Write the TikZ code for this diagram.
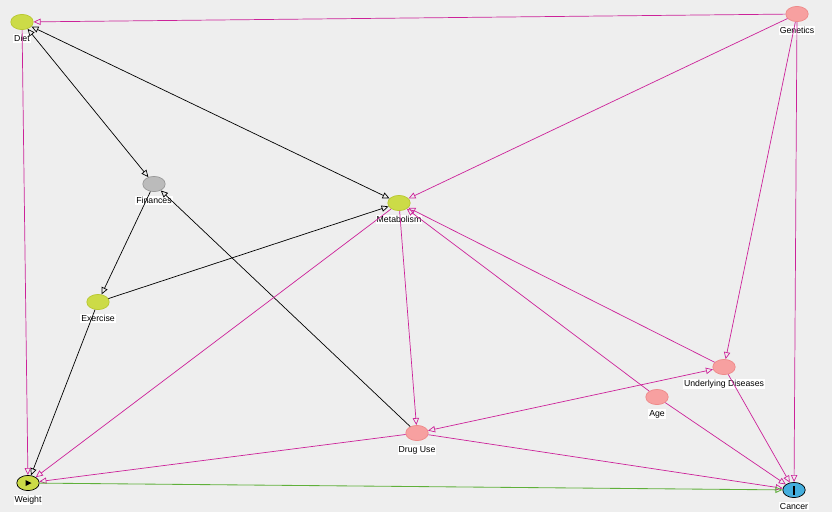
\documentclass[tikz,border=0pt]{standalone}
\usepackage{fontspec}
\setmainfont{Liberation Sans}
\usetikzlibrary{arrows.meta,shapes.geometric}

\definecolor{bgcol}{HTML}{EEEEEE}
\definecolor{ancboth}{HTML}{CCDB47}
\definecolor{ancboth2}{HTML}{B9C832}
\definecolor{ancout}{HTML}{F7A0A0}
\definecolor{ancout2}{HTML}{EE8A8A}
\definecolor{other}{HTML}{BBBBBB}
\definecolor{other2}{HTML}{999999}
\definecolor{outcol}{HTML}{44AEDD}
\definecolor{biasline}{HTML}{CC2299}
\definecolor{causline}{HTML}{5FB03A}

\tikzset{
  var/.style={ellipse, minimum width=0.56cm, minimum height=0.38cm, inner sep=0pt, line width=0.5pt},
  both/.style={var, fill=ancboth, draw=ancboth2},
  outanc/.style={var, fill=ancout, draw=ancout2},
  plain/.style={var, fill=other, draw=other2},
  lab/.style={fill=white, inner sep=0.7pt, font=\fontsize{6.2}{7}\selectfont},
  bias/.style={draw=biasline, line width=0.5pt},
  neutral/.style={draw=black, line width=0.5pt},
  causal/.style={draw=causline, line width=0.6pt},
}

\begin{document}
\begin{tikzpicture}[x=0.025cm, y=-0.025cm, label distance=0.1cm,
    >={Triangle[open,length=5pt,width=4.5pt]}]
  % fond
  \fill[bgcol] (0,0) rectangle (832,512);
  \useasboundingbox (0,0) rectangle (832,512);

  % variables
  \node[both, label={[lab]below:Diet}] (diet) at (22,22) {};
  \node[outanc, label={[lab]below:Genetics}] (gen) at (797,14) {};
  \node[plain, label={[lab]below:Finances}] (fin) at (154,184) {};
  \node[both, label={[lab]below:Metabolism}] (metab) at (399,203) {};
  \node[both, label={[lab]below:Exercise}] (exer) at (98,302) {};
  \node[outanc, label={[lab]below:Underlying Diseases}] (undis) at (724,367) {};
  \node[outanc, label={[lab]below:Age}] (age) at (657,397) {};
  \node[outanc, label={[lab]below:Drug Use}] (drug) at (417,433) {};
  \node[both, draw=black, label={[lab]below:Weight}] (weight) at (28,483) {};
  \node[var, fill=outcol, draw=black, label={[lab]below:Cancer}] (cancer) at (794,490) {};

  % marques exposition / issue
  \fill (weight.center) ++(-2.5,-3) -- ++(6,3) -- ++(-6,3) -- cycle;
  \fill (cancer.center) ++(-1,-4.5) rectangle ++(2,9);

  % arcs noirs
  \draw[neutral, <->] (diet) -- (fin);
  \draw[neutral, <->] (diet) -- (metab);
  \draw[neutral, ->] (fin) -- (exer);
  \draw[neutral, ->] (drug) -- (fin);
  \draw[neutral, ->] (exer) -- (metab);
  \draw[neutral, ->] (exer) -- (weight);

  % arcs biaisants
  \draw[bias, ->] (gen) -- (diet);
  \draw[bias, ->] (gen) -- (metab);
  \draw[bias, ->] (gen) -- (undis);
  \draw[bias, ->] (gen) -- (cancer);
  \draw[bias, ->] (diet) -- (weight);
  \draw[bias, ->] (metab) -- (weight);
  \draw[bias, ->] (metab) -- (drug);
  \draw[bias, ->] (age) -- (metab);
  \draw[bias, ->] (undis) -- (metab);
  \draw[bias, <->] (drug) -- (undis);
  \draw[bias, ->] (undis) -- (cancer);
  \draw[bias, ->] (age) -- (cancer);
  \draw[bias, ->] (drug) -- (weight);
  \draw[bias, ->] (drug) -- (cancer);

  % arc causal
  \draw[causal, ->] (weight) -- (cancer);
\end{tikzpicture}
\end{document}
